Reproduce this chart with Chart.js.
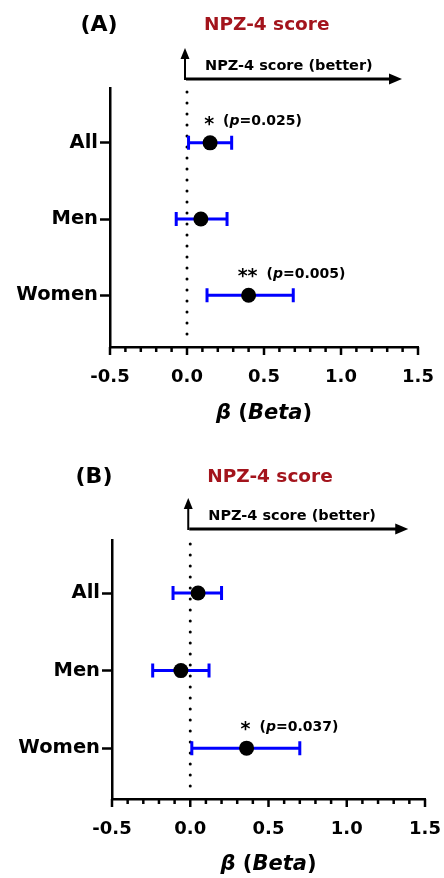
<!DOCTYPE html>
<html>
<head>
<meta charset="utf-8">
<script src="https://cdn.jsdelivr.net/npm/chart.js@4.4.0/dist/chart.umd.min.js"></script>
<style>
  body { margin: 0; background: #fff; }
  canvas { display: block; }
</style>
</head>
<body>
<canvas id="chartA" width="444" height="439"></canvas>
<canvas id="chartB" width="444" height="439"></canvas>
<script>
// data
var groups = ['All', 'Men', 'Women'];

var betaA = [0.15, 0.09, 0.40];
var lowA = [0.01, -0.07, 0.13];
var highA = [0.29, 0.26, 0.69];
var starsA = ['*', '', '**'];
var pA = ['0.025', '', '0.005'];

var betaB = [0.05, -0.06, 0.36];
var lowB = [-0.11, -0.24, 0.01];
var highB = [0.20, 0.12, 0.70];
var starsB = ['', '', '*'];
var pB = ['', '', '0.037'];

var xMin = -0.5, xMax = 1.5, xStep = 0.1;

var FONT = '"DejaVu Sans", sans-serif';

function toPoints(beta) {
    return beta.map(function(b, i) { return { x: b, y: i + 1 }; });
}

function drawRuns(ctx, x, y, runs) {
    runs.forEach(function(r) {
        ctx.font = r.f;
        ctx.fillText(r.t, x, y);
        x += ctx.measureText(r.t).width;
    });
    return x;
}

function runsWidth(ctx, runs) {
    var w = 0;
    runs.forEach(function(r) { ctx.font = r.f; w += ctx.measureText(r.t).width; });
    return w;
}

var forestPlugin = {
    id: 'forest',
    beforeDatasetsDraw: function(chart, args, o) {
        var ctx = chart.ctx, xs = chart.scales.x, ys = chart.scales.y, a = chart.chartArea;
        var x0 = xs.getPixelForValue(0);
        ctx.save();
        // dotted zero line
        ctx.strokeStyle = '#000';
        ctx.lineWidth = 3;
        ctx.lineCap = 'round';
        ctx.setLineDash([0, 11]);
        ctx.beginPath();
        ctx.moveTo(x0, a.top + 4);
        ctx.lineTo(x0, a.bottom - 4);
        ctx.stroke();
        ctx.setLineDash([]);
        // error bars
        ctx.strokeStyle = '#0000ff';
        ctx.lineWidth = 3;
        ctx.lineCap = 'butt';
        o.low.forEach(function(lo, i) {
            var y = ys.getPixelForValue(i + 1);
            var x1 = xs.getPixelForValue(lo), x2 = xs.getPixelForValue(o.high[i]);
            ctx.beginPath();
            ctx.moveTo(x1, y); ctx.lineTo(x2, y);
            ctx.moveTo(x1, y - 7); ctx.lineTo(x1, y + 7);
            ctx.moveTo(x2, y - 7); ctx.lineTo(x2, y + 7);
            ctx.stroke();
        });
        ctx.restore();
    },
    afterDraw: function(chart, args, o) {
        var ctx = chart.ctx, xs = chart.scales.x, ys = chart.scales.y, a = chart.chartArea;
        var x0 = xs.getPixelForValue(0);
        ctx.save();
        ctx.fillStyle = '#000';
        ctx.strokeStyle = '#000';

        // x ticks, long at every 0.5
        ctx.lineWidth = 2.5;
        xs.ticks.forEach(function(t) {
            var px = xs.getPixelForValue(t.value);
            var major = Math.round(t.value * 10) % 5 === 0;
            ctx.beginPath();
            ctx.moveTo(px, a.bottom);
            ctx.lineTo(px, a.bottom + (major ? 8 : 5));
            ctx.stroke();
        });

        // x title
        ctx.textBaseline = 'middle';
        var bi = 'italic bold 21px ' + FONT, b = 'bold 21px ' + FONT;
        var title = [{ t: 'β', f: bi }, { t: ' (', f: b }, { t: 'Beta', f: bi }, { t: ')', f: b }];
        drawRuns(ctx, (a.left + a.right) / 2 - runsWidth(ctx, title) / 2, a.bottom + o.titleDy, title);

        // significance notes
        o.beta.forEach(function(v, i) {
            if (!o.stars[i]) return;
            var px = xs.getPixelForValue(v), py = ys.getPixelForValue(i + 1);
            ctx.font = 'bold 19px ' + FONT;
            ctx.textAlign = 'center';
            var sw = ctx.measureText(o.stars[i]).width;
            ctx.fillText(o.stars[i], px - 1, py - 18);
            ctx.textAlign = 'left';
            drawRuns(ctx, px - 1 + sw / 2 + 9, py - 21, [
                { t: '(', f: 'bold 14px ' + FONT },
                { t: 'p', f: 'italic bold 14px ' + FONT },
                { t: '=' + o.p[i] + ')', f: 'bold 14px ' + FONT }
            ]);
        });

        // panel letter and heading
        ctx.font = 'bold 22px ' + FONT;
        ctx.textAlign = 'center';
        ctx.fillText(o.letter, o.letterX, a.top - 63);
        ctx.textAlign = 'left';
        ctx.fillStyle = '#a3141c';
        ctx.font = 'bold 18.5px ' + FONT;
        ctx.fillText('NPZ-4 score', x0 + 17, a.top - 63);
        ctx.fillStyle = '#000';
        ctx.font = 'bold 14.5px ' + FONT;
        ctx.fillText('NPZ-4 score (better)', x0 + 18, a.top - o.arrowDy - 13);

        // arrows
        var ay = a.top - o.arrowDy;
        ctx.lineWidth = 3;
        ctx.beginPath();
        ctx.moveTo(x0 - 1, ay);
        ctx.lineTo(x0 + o.arrowLen - 10, ay);
        ctx.stroke();
        ctx.beginPath();
        ctx.moveTo(x0 + o.arrowLen, ay);
        ctx.lineTo(x0 + o.arrowLen - 13, ay - 5.5);
        ctx.lineTo(x0 + o.arrowLen - 13, ay + 5.5);
        ctx.closePath();
        ctx.fill();
        var vx = x0 - 2;
        ctx.lineWidth = 2;
        ctx.beginPath();
        ctx.moveTo(vx, ay + 1);
        ctx.lineTo(vx, ay - 22);
        ctx.stroke();
        ctx.beginPath();
        ctx.moveTo(vx, ay - 31);
        ctx.lineTo(vx - 4.5, ay - 20);
        ctx.lineTo(vx + 4.5, ay - 20);
        ctx.closePath();
        ctx.fill();
        ctx.restore();
    }
};

function makeChart(id, beta, low, high, stars, p, box) {
    return new Chart(document.getElementById(id), {
        type: 'scatter',
        data: {
            datasets: [{
                data: toPoints(beta),
                backgroundColor: '#000',
                borderWidth: 0,
                pointRadius: 7.5,
                pointHoverRadius: 7.5
            }]
        },
        options: {
            responsive: false,
            animation: false,
            devicePixelRatio: 1,
            layout: { padding: { top: box.top, right: box.right, left: 0, bottom: 0 } },
            scales: {
                x: {
                    type: 'linear',
                    min: xMin,
                    max: xMax,
                    afterFit: function(s) {
                        s.height = box.xHeight;
                        s.paddingLeft = 0;
                        s.paddingRight = 0;
                    },
                    grid: { display: false },
                    border: { display: true, color: '#000', width: 2.5 },
                    ticks: {
                        stepSize: xStep,
                        autoSkip: false,
                        maxRotation: 0,
                        padding: 12,
                        color: '#000',
                        font: { family: FONT, size: 18, weight: 'bold' },
                        callback: function(v) {
                            return Math.round(v * 10) % 5 === 0 ? v.toFixed(1) : '';
                        }
                    }
                },
                y: {
                    type: 'linear',
                    reverse: true,
                    min: box.yMin,
                    max: box.yMax,
                    afterFit: function(s) { s.width = box.yWidth; },
                    afterBuildTicks: function(s) {
                        s.ticks = groups.map(function(g, i) { return { value: i + 1 }; });
                    },
                    grid: { display: true, drawOnChartArea: false, tickLength: 10, tickWidth: 2.5, tickColor: '#000' },
                    border: { display: true, color: '#000', width: 2.5 },
                    ticks: {
                        padding: 2,
                        color: '#000',
                        font: { family: FONT, size: 19.5, weight: 'bold' },
                        callback: function(v) { return groups[v - 1]; }
                    }
                }
            },
            plugins: {
                legend: { display: false },
                tooltip: { enabled: false },
                forest: {
                    beta: beta, low: low, high: high, stars: stars, p: p,
                    letter: box.letter, letterX: box.letterX,
                    arrowDy: box.arrowDy, arrowLen: box.arrowLen, titleDy: box.titleDy
                }
            }
        },
        plugins: [forestPlugin]
    });
}

makeChart('chartA', betaA, lowA, highA, starsA, pA,
    { top: 88, right: 26, yWidth: 110, xHeight: 92, yMin: 0.28, yMax: 3.68,
      letter: '(A)', letterX: 99, arrowDy: 9, arrowLen: 215, titleDy: 67 });
makeChart('chartB', betaB, lowB, highB, starsB, pB,
    { top: 101, right: 19, yWidth: 112, xHeight: 79, yMin: 0.316, yMax: 3.656,
      letter: '(B)', letterX: 94, arrowDy: 11, arrowLen: 218, titleDy: 66 });
</script>
</body>
</html>
